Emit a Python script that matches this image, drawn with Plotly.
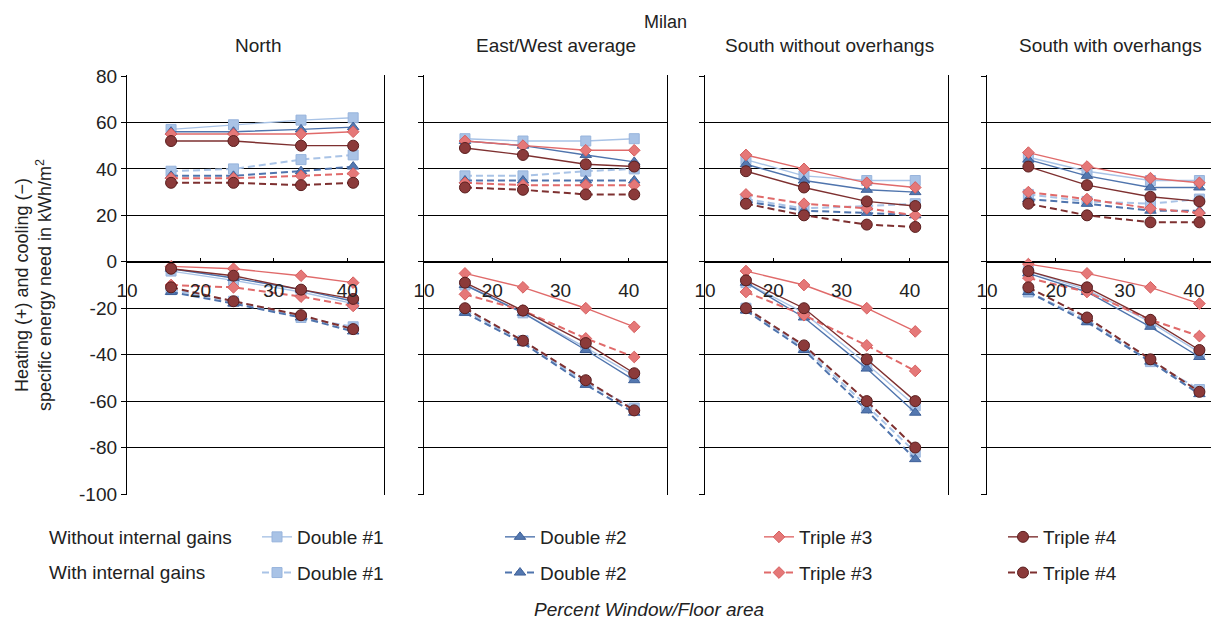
import plotly.graph_objects as go

# ---------------- data ----------------
window_pct = [16, 24.5, 33.7, 40.8]
x_ticks = [10, 20, 30, 40]
y_ticks = [80, 60, 40, 20, 0, -20, -40, -60, -80, -100]
panel_titles = ["North", "East/West average", "South without overhangs", "South with overhangs"]
series_names = ["Double #1", "Double #2", "Triple #3", "Triple #4"]
chart_title = "Milan"
row_labels = ["Without internal gains", "With internal gains"]
x_title = "Percent Window/Floor area"
y_title = "Heating (+) and cooling (\u2212)<br>specific energy need in kWh/m<sup>2</sup>"

# order of inner lists: Double #1, Double #2, Triple #3, Triple #4
north_heat_without = [[57, 59, 61, 62], [56, 56, 57, 58], [55, 55, 55, 56], [52, 52, 50, 50]]
north_heat_with = [[39, 40, 44, 46], [37, 37, 39, 41], [36, 36, 37, 38], [34, 34, 33, 34]]
north_cool_without = [[-4, -8, -13, -18], [-3, -7, -12, -17], [-2, -3, -6, -9], [-3, -6, -12, -16]]
north_cool_with = [[-12, -17, -24, -28], [-13, -18, -24, -30], [-10, -11, -15, -19], [-11, -17, -23, -29]]

ew_heat_without = [[53, 52, 52, 53], [52, 50, 46, 43], [52, 50, 48, 48], [49, 46, 42, 41]]
ew_heat_with = [[37, 37, 39, 40], [35, 35, 35, 35], [34, 33, 33, 33], [32, 31, 29, 29]]
ew_cool_without = [[-10, -22, -37, -49], [-10, -22, -38, -51], [-5, -11, -20, -28], [-9, -21, -35, -48]]
ew_cool_with = [[-21, -34, -52, -63], [-22, -35, -53, -65], [-14, -21, -33, -41], [-20, -34, -51, -64]]

south_heat_without = [[44, 37, 35, 35], [42, 35, 31, 30], [46, 40, 34, 32], [39, 32, 26, 24]]
south_heat_with = [[27, 23, 24, 25], [26, 22, 21, 20], [29, 25, 23, 20], [25, 20, 16, 15]]
south_cool_without = [[-9, -22, -44, -62], [-9, -24, -46, -65], [-4, -10, -20, -30], [-8, -20, -42, -60]]
south_cool_with = [[-20, -37, -62, -82], [-21, -38, -64, -85], [-13, -23, -36, -47], [-20, -36, -60, -80]]

southov_heat_without = [[45, 39, 35, 35], [44, 37, 32, 32], [47, 41, 36, 34], [41, 33, 28, 26]]
southov_heat_with = [[29, 26, 25, 27], [27, 25, 22, 22], [30, 27, 23, 21], [25, 20, 17, 17]]
southov_cool_without = [[-4, -12, -26, -39], [-5, -13, -28, -41], [-1, -5, -11, -18], [-4, -11, -25, -38]]
southov_cool_with = [[-13, -25, -43, -55], [-13, -26, -43, -57], [-7, -13, -25, -32], [-11, -24, -42, -56]]

panels_data = [
    (north_heat_without, north_heat_with, north_cool_without, north_cool_with),
    (ew_heat_without, ew_heat_with, ew_cool_without, ew_cool_with),
    (south_heat_without, south_heat_with, south_cool_without, south_cool_with),
    (southov_heat_without, southov_heat_with, southov_cool_without, southov_cool_with),
]

# ---------------- styles ----------------
W, H = 1219, 627
OFF = 8  # page body margin
FONT = "Liberation Sans, Arial, sans-serif"
TXT = "#222222"
FS = 19

line_colors = ["#a9c3e6", "#4f74ad", "#e06a6a", "#7e3030"]
marker_colors = ["#a9c3e6", "#5478b0", "#e57878", "#8b3a3a"]
marker_edges = ["#98b4dc", "#3f6199", "#d65e5e", "#5a1e1e"]
symbols = ["square", "triangle-up", "diamond", "circle"]
sizes = [10, 10, 9, 11]


def px(x):
    return (x - OFF) / W


def py(y):
    return 1 - (y - OFF) / H


y_range = [-100.4, 80.4]
unit_px = (494 - 76) / 180
y_dom = [py(494 + 0.4 * unit_px), py(76 - 0.4 * unit_px)]
x_domains = [[px(127), px(384)], [px(424), px(667)], [px(705), px(948)], [px(987), 1.0]]
x_ranges = [[10, 45], [10, 45.6], [10, 45.6], [10, 44.8]]
axis_pos = y_dom[0] + (0 - y_range[0]) / (y_range[1] - y_range[0]) * (y_dom[1] - y_dom[0])

fig = go.Figure()

legend_names = ["legend", "legend2", "legend3", "legend4"]

for p, (hw, hg, cw, cg) in enumerate(panels_data):
    xa = "x" if p == 0 else f"x{p+1}"
    ya = "y" if p == 0 else f"y{p+1}"
    for s in range(4):
        for gains, (heat, cool) in enumerate([(hw, cw), (hg, cg)]):
            dash = "solid" if gains == 0 else "7px,4px"
            lw = 1.4 if gains == 0 else 2
            for k, vals in enumerate([heat[s], cool[s]]):
                fig.add_trace(go.Scatter(
                    x=window_pct, y=vals,
                    xaxis=xa, yaxis=ya,
                    mode="lines+markers",
                    name=series_names[s],
                    legendgroup=f"{series_names[s]}-{gains}",
                    legend=legend_names[s],
                    showlegend=(p == 0 and k == 0),
                    line=dict(color=line_colors[s], width=lw, dash=dash),
                    marker=dict(symbol=symbols[s], size=sizes[s], color=marker_colors[s],
                                line=dict(color=marker_edges[s], width=1)),
                    hoverinfo="x+y+name",
                ))

layout = dict(
    width=W, height=H,
    margin=dict(l=0, r=0, t=0, b=0, autoexpand=False),
    paper_bgcolor="white", plot_bgcolor="white",
    font=dict(family=FONT, size=FS, color=TXT),
    showlegend=True,
)

for p in range(4):
    xk = "xaxis" if p == 0 else f"xaxis{p+1}"
    yk = "yaxis" if p == 0 else f"yaxis{p+1}"
    layout[xk] = dict(
        domain=x_domains[p], range=x_ranges[p], anchor="free", position=axis_pos,
        tickvals=x_ticks, ticks="inside", ticklen=4, tickcolor="black",
        showline=True, linecolor="black", linewidth=1.3,
        showgrid=False, zeroline=False, ticklabelstandoff=11,
        tickfont=dict(size=FS, color=TXT), fixedrange=True, automargin=False,
    )
    layout[yk] = dict(
        domain=y_dom, range=y_range, anchor=("x" if p == 0 else f"x{p+1}"),
        tickvals=y_ticks, ticktext=[str(v) for v in y_ticks],
        ticks="outside", ticklen=5, tickcolor="black",
        showticklabels=(p == 0), tickfont=dict(size=FS, color=TXT),
        showgrid=True, gridcolor="black", gridwidth=1.3,
        showline=True, linecolor="black", linewidth=1.3, mirror=(p < 3),
        zeroline=False, fixedrange=True, automargin=False,
    )

leg_marker_x = [278, 521, 780, 1024]
for s in range(4):
    layout[legend_names[s]] = dict(
        x=px(leg_marker_x[s] - 21), y=py(518), xanchor="left", yanchor="top",
        orientation="v", tracegroupgap=8, bgcolor="rgba(0,0,0,0)",
        font=dict(size=FS, color=TXT), itemclick=False, itemdoubleclick=False,
    )

annotations = []
panel_centers = [258, 556, 829, 1110]
for p in range(4):
    annotations.append(dict(text=panel_titles[p], x=px(panel_centers[p]), y=py(46),
                            xref="paper", yref="paper", xanchor="center", yanchor="middle",
                            showarrow=False, font=dict(size=FS, color=TXT)))
annotations.append(dict(text=chart_title, x=px(665), y=py(22), xref="paper", yref="paper",
                        xanchor="center", yanchor="middle",
                        showarrow=False, font=dict(size=18, color=TXT)))
annotations.append(dict(text=y_title, x=px(33), y=py(285), xref="paper", yref="paper",
                        xanchor="center", yanchor="middle",
                        showarrow=False, textangle=-90, font=dict(size=18, color=TXT)))
annotations.append(dict(text=row_labels[0], x=px(47), y=py(537), xref="paper", yref="paper",
                        xanchor="left", yanchor="middle", showarrow=False,
                        font=dict(size=FS, color=TXT)))
annotations.append(dict(text=row_labels[1], x=px(47), y=py(572), xref="paper", yref="paper",
                        xanchor="left", yanchor="middle", showarrow=False,
                        font=dict(size=FS, color=TXT)))
annotations.append(dict(text="<i>" + x_title + "</i>", x=px(649), y=py(609), xref="paper",
                        yref="paper", xanchor="center", yanchor="middle", showarrow=False,
                        font=dict(size=FS, color=TXT)))
layout["annotations"] = annotations

fig.update_layout(**layout)
fig.write_html("out.html")
